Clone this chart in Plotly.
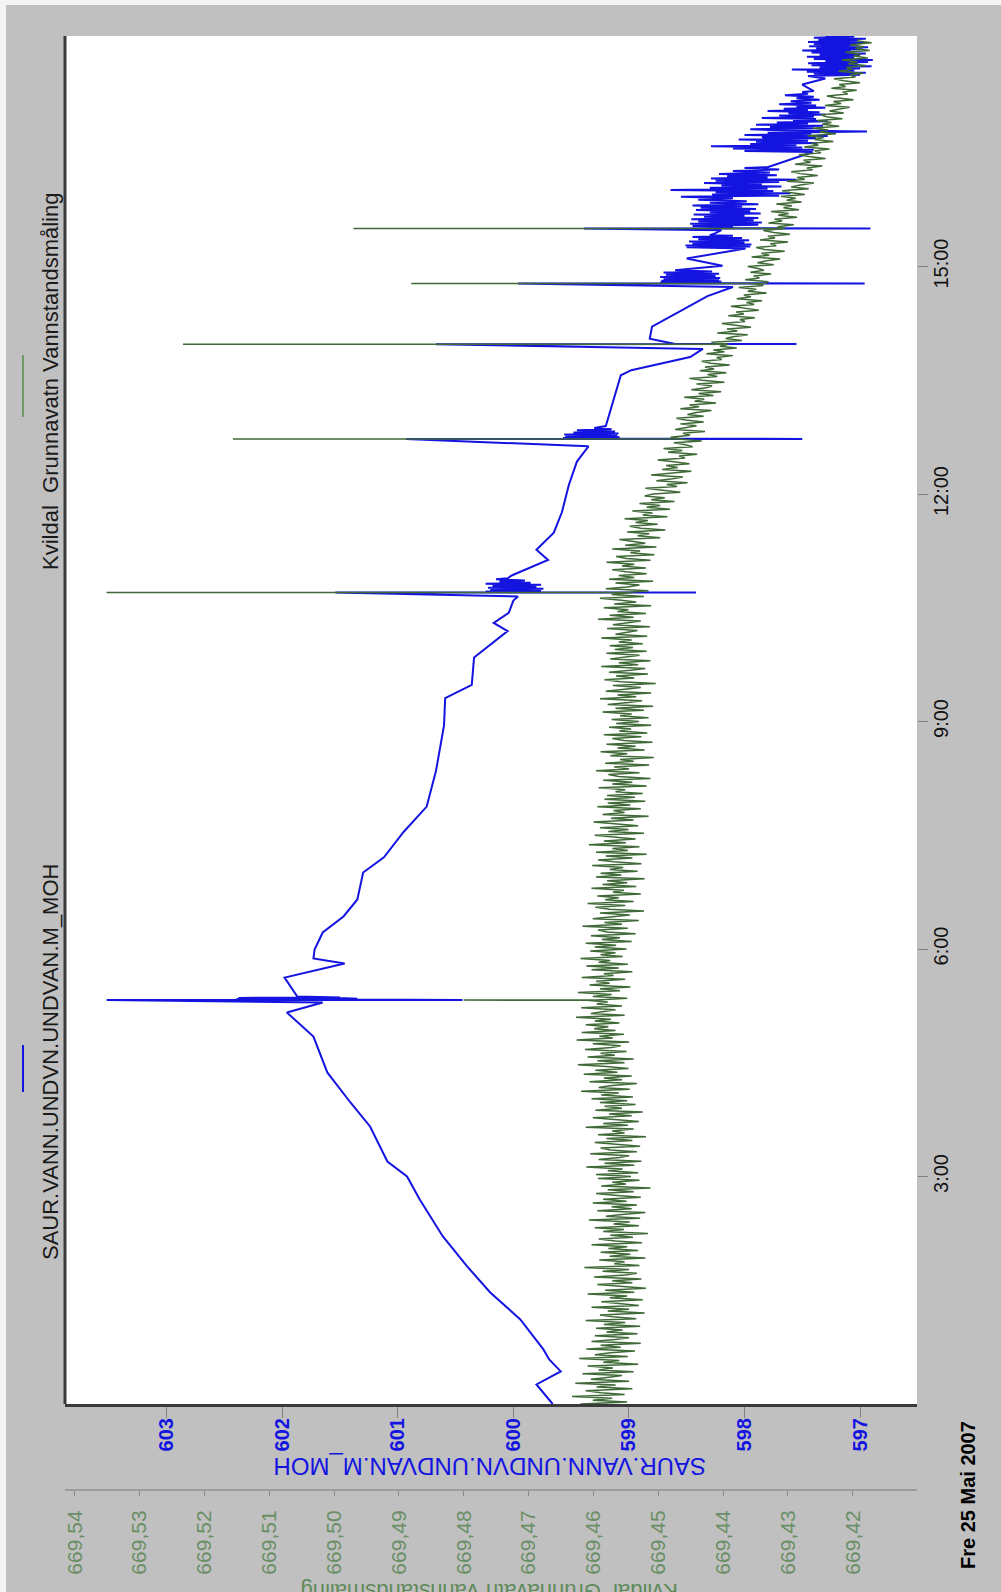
import numpy as np
import pandas as pd
import plotly.graph_objects as go

DAY = pd.Timestamp("2007-05-25")

# SAUR.VANN.UNDVN.UNDVAN.M_MOH : (hours after midnight, level in m)
BLUE_READINGS = [
    (0.000, 599.66), (0.258, 599.80), (0.430, 599.59), (0.588, 599.69), (0.720, 599.74),
    (1.115, 599.94), (1.471, 600.20), (1.814, 600.40), (2.210, 600.61), (2.697, 600.81),
    (3.000, 600.92), (3.198, 601.09), (3.660, 601.24), (3.976, 601.41), (4.372, 601.61),
    (4.846, 601.73), (5.163, 601.96), (5.294, 601.65),
    # disturbance around 05:20
    (5.326, 603.52), (5.327, 600.44), (5.331, 602.35), (5.335, 601.40), (5.339, 602.40),
    (5.343, 601.35), (5.347, 602.30), (5.351, 601.45), (5.355, 602.38), (5.359, 601.50),
    (5.374, 601.87), (5.624, 601.98), (5.809, 601.46), (5.875, 601.73), (5.994, 601.72),
    (6.218, 601.65), (6.429, 601.47), (6.653, 601.35), (7.009, 601.30), (7.209, 601.12),
    (7.543, 600.95), (7.878, 600.75), (8.346, 600.67), (8.948, 600.60), (9.310, 600.59),
    (9.484, 600.36), (9.845, 600.34), (10.006, 600.21), (10.193, 600.05), (10.300, 600.17),
    (10.434, 600.04), (10.595, 600.00), (10.648, 599.96),
    # disturbance around 10:42
    (10.701, 601.54), (10.702, 598.42), (10.705, 600.05), (10.715, 600.24), (10.728, 599.76),
    (10.740, 600.20), (10.752, 599.74), (10.764, 600.22), (10.776, 599.80), (10.790, 600.18),
    (10.803, 599.76), (10.817, 600.24), (10.830, 599.85), (10.845, 600.12), (10.860, 599.90),
    (10.875, 600.15), (10.889, 600.05),
    (10.929, 600.01), (11.130, 599.70), (11.264, 599.80), (11.491, 599.65), (11.759, 599.58),
    (12.120, 599.52), (12.428, 599.45), (12.629, 599.35),
    # disturbance around 12:44
    (12.726, 600.93), (12.727, 597.50), (12.730, 599.30), (12.738, 599.57), (12.750, 599.08),
    (12.762, 599.55), (12.774, 599.10), (12.786, 599.56), (12.798, 599.09), (12.812, 599.48),
    (12.826, 599.12), (12.840, 599.45), (12.855, 599.15), (12.870, 599.30),
    (12.897, 599.20), (13.566, 599.07), (13.633, 598.98), (13.807, 598.47), (13.914, 598.36),
    # disturbance around 13:59
    (13.976, 600.67), (13.977, 597.55), (13.980, 598.60),
    (14.048, 598.82), (14.208, 598.80), (14.610, 598.32), (14.730, 598.10),
    # disturbance around 14:47
    (14.776, 599.96), (14.777, 596.96), (14.780, 598.40), (14.790, 598.73), (14.802, 598.20),
    (14.814, 598.72), (14.826, 598.22), (14.838, 598.70), (14.850, 598.21), (14.862, 598.73),
    (14.875, 598.25), (14.890, 598.68), (14.905, 598.22), (14.920, 598.70), (14.935, 598.28),
    (14.950, 598.60),
    (15.011, 598.19), (15.105, 598.50), (15.239, 597.99),
    (15.253, 598.50), (15.265, 597.95), (15.277, 598.51), (15.290, 597.94), (15.303, 598.45),
    (15.316, 598.00), (15.330, 598.48), (15.345, 597.96), (15.360, 598.40), (15.375, 598.02),
    (15.390, 598.45), (15.405, 598.10), (15.413, 598.30), (15.440, 598.25), (15.480, 598.20),
    # disturbance around 15:30, then unsteady readings
    (15.501, 599.39), (15.502, 596.91), (15.505, 598.30),
    (15.520, 598.10), (15.535, 598.45), (15.550, 597.88), (15.565, 598.47), (15.580, 597.85),
    (15.595, 598.40), (15.610, 597.92), (15.625, 598.46), (15.640, 597.88), (15.655, 598.35),
    (15.670, 598.00), (15.685, 598.44), (15.700, 597.86), (15.715, 598.30), (15.730, 597.95),
    (15.745, 598.42), (15.760, 597.90), (15.775, 598.38), (15.790, 598.02), (15.805, 598.45),
    (15.820, 597.88), (15.840, 598.30), (15.860, 597.98), (15.880, 598.40), (15.900, 598.10),
    (15.920, 598.55), (15.935, 597.70), (15.950, 598.28), (15.965, 597.60), (15.980, 598.25),
    (15.995, 597.75), (16.010, 598.64), (16.025, 597.80), (16.040, 598.30), (16.055, 597.68),
    (16.070, 598.20), (16.085, 597.85), (16.100, 598.35), (16.115, 597.70), (16.130, 598.25),
    (16.145, 597.55), (16.160, 598.29), (16.175, 597.80), (16.190, 598.15), (16.205, 597.72),
    (16.220, 598.22), (16.240, 597.78), (16.260, 598.10), (16.280, 597.70), (16.300, 598.00),
    (16.310, 597.80), (16.510, 597.41),
    (16.525, 598.00), (16.540, 597.40), (16.555, 598.10), (16.570, 597.50), (16.585, 598.29),
    (16.600, 597.55), (16.615, 597.95), (16.630, 597.37), (16.645, 597.90), (16.660, 597.45),
    (16.675, 598.05), (16.690, 597.38), (16.705, 597.85), (16.720, 597.28), (16.735, 598.00),
    (16.750, 597.42), (16.765, 597.80), (16.780, 596.94), (16.795, 597.65), (16.810, 597.95),
    (16.825, 597.40), (16.840, 597.78), (16.855, 597.32), (16.870, 597.90), (16.885, 597.45),
    (16.900, 597.72), (16.915, 597.28), (16.930, 597.58), (16.945, 597.38), (16.960, 597.85),
    (16.975, 597.40), (16.990, 597.70), (17.005, 597.30), (17.020, 597.62), (17.035, 597.35),
    (17.050, 597.80), (17.065, 597.45), (17.080, 597.66), (17.095, 597.30), (17.110, 597.55),
    (17.125, 597.38), (17.140, 597.70), (17.160, 597.42), (17.180, 597.60), (17.200, 597.35),
    (17.220, 597.55), (17.240, 597.40), (17.260, 597.65), (17.280, 597.45), (17.300, 597.50),
    (17.314, 597.40), (17.400, 597.50), (17.480, 597.30),
    (17.514, 597.45), (17.528, 597.00), (17.542, 597.40), (17.556, 596.95), (17.570, 597.46),
    (17.584, 597.05), (17.598, 597.59), (17.612, 597.00), (17.626, 597.35), (17.640, 596.90),
    (17.654, 597.42), (17.668, 597.02), (17.682, 597.45), (17.696, 596.93), (17.710, 597.30),
    (17.724, 596.89), (17.738, 597.40), (17.752, 597.05), (17.766, 597.46), (17.780, 597.00),
    (17.794, 597.35), (17.808, 596.95), (17.822, 597.42), (17.836, 597.08), (17.850, 597.50),
    (17.864, 596.98), (17.878, 597.38), (17.892, 596.93), (17.906, 597.44), (17.920, 597.05),
    (17.934, 597.40), (17.948, 596.96), (17.962, 597.45), (17.976, 597.02), (17.990, 597.36),
    (18.004, 596.95), (18.018, 597.40), (18.032, 597.05), (18.046, 597.30),
]

# Kvildal Grunnavatn Vannstandsmåling : level above the 669.400 m datum, in 0.1 mm,
# one reading every 0.025 h (90 s) starting at 00:00
GREEN_DATUM_M = 669.4
GREEN_STEP_HOURS = 0.025
GREEN_ABOVE_DATUM = [
    # 00
    620, 548, 601, 571, 633, 552, 588, 612, 540, 595, 566, 628, 545, 604, 579, 556, 617, 538, 592, 570,
    609, 531, 585, 560, 622, 547, 598, 574, 536, 611, 558, 589, 527, 603, 566, 545, 598, 532, 580, 555,
    # 01
    596, 528, 584, 551, 612, 534, 570, 590, 521, 578, 545, 603, 530, 566, 588, 524, 575, 548, 609, 537,
    582, 519, 563, 594, 540, 571, 526, 599, 551, 533, 586, 545, 614, 529, 568, 552, 591, 520, 575, 543,
    # 02
    589, 531, 577, 548, 603, 525, 566, 592, 539, 574, 516, 585, 553, 598, 530, 569, 544, 607, 528, 581,
    556, 520, 594, 541, 572, 533, 601, 549, 585, 527, 563, 596, 538, 578, 512, 588, 550, 571, 529, 593,
    # 03
    542, 596, 531, 578, 555, 611, 537, 583, 526, 592, 560, 545, 605, 533, 574, 589, 528, 566, 598, 540,
    580, 519, 593, 552, 571, 538, 612, 547, 585, 530, 569, 601, 541, 576, 524, 597, 556, 583, 535, 590,
    # 04
    548, 603, 539, 588, 561, 619, 544, 592, 571, 533, 606, 556, 584, 541, 615, 563, 597, 546, 580, 624,
    552, 594, 538, 609, 567, 589, 549, 613, 572, 558, 601, 545, 626, 570, 591, 553, 618, 566, 599, 577,
    # 05
    612, 560, 598, 573, 627, 552, 604, 581, 566, 619, 556, 595, 578, 610, 548, 601, 572, 624, 559, 590,
    543, 606, 575, 596, 551, 618, 569, 584, 540, 603, 561, 611, 547, 592, 574, 620, 555, 589, 566, 605,
    # 06
    549, 598, 565, 612, 541, 587, 559, 604, 535, 579, 593, 547, 617, 556, 583, 530, 601, 568, 544, 590,
    522, 575, 597, 551, 609, 538, 582, 561, 594, 527, 570, 553, 603, 534, 586, 548, 579, 521, 596, 557,
    # 07
    589, 532, 575, 554, 602, 526, 568, 593, 540, 581, 518, 596, 547, 571, 529, 607, 550, 584, 535, 565,
    598, 522, 577, 546, 590, 531, 561, 600, 538, 573, 515, 586, 552, 569, 527, 594, 543, 578, 520, 583,
    # 08
    536, 579, 524, 566, 551, 592, 518, 571, 540, 585, 512, 561, 577, 529, 596, 545, 568, 514, 582, 538,
    559, 507, 574, 548, 589, 521, 563, 535, 580, 509, 553, 571, 526, 584, 517, 560, 542, 576, 511, 565,
    # 09
    530, 572, 515, 559, 541, 586, 522, 566, 508, 578, 546, 525, 590, 534, 563, 511, 581, 549, 527, 570,
    504, 558, 583, 537, 565, 516, 576, 543, 520, 588, 531, 561, 512, 574, 547, 529, 580, 518, 567, 539,
    # 10
    575, 524, 561, 541, 588, 517, 566, 549, 532, 579, 513, 570, 552, 527, 593, 538, 575, 519, 563, 546,
    584, 511, 568, 534, 557, 590, 522, 572, 541, 515, 581, 548, 529, 566, 508, 576, 537, 561, 518, 550,
    # 11
    571, 519, 556, 537, 580, 512, 549, 565, 506, 543, 528, 571, 503, 551, 520, 538, 560, 497, 532, 514,
    548, 489, 527, 544, 501, 535, 516, 552, 486, 524, 509, 540, 482, 518, 497, 529, 475, 511, 490, 521,
    # 12
    508, 466, 499, 520, 471, 487, 455, 503, 478, 462, 511, 483, 449, 494, 470, 488, 452, 476, 501, 459,
    468, 440, 485, 463, 492, 447, 458, 476, 433, 469, 481, 451, 462, 428, 474, 455, 441, 466, 430, 458,
    # 13
    472, 430, 455, 441, 418, 466, 437, 452, 411, 444, 429, 460, 415, 438, 403, 449, 426, 417, 441, 398,
    432, 452, 409, 424, 395, 436, 414, 428, 390, 419, 433, 402, 410, 385, 426, 398, 415, 379, 405, 392,
    # 14
    418, 371, 396, 385, 362, 409, 378, 394, 357, 383, 402, 366, 374, 351, 392, 368, 380, 345, 371, 388,
    352, 364, 340, 379, 357, 368, 333, 362, 349, 376, 338, 355, 330, 366, 344, 353, 326, 358, 337, 346,
    # 15
    362, 322, 347, 333, 312, 356, 329, 341, 305, 336, 349, 318, 327, 300, 343, 320, 331, 297, 322, 338,
    304, 316, 291, 330, 309, 321, 286, 315, 299, 326, 283, 307, 294, 318, 279, 302, 288, 311, 274, 297,
    # 16
    309, 268, 295, 281, 260, 302, 274, 286, 254, 281, 295, 262, 271, 247, 289, 265, 276, 242, 268, 283,
    249, 259, 236, 275, 253, 264, 230, 259, 245, 270, 226, 251, 238, 262, 221, 247, 233, 255, 216, 241,
    # 17
    249, 214, 236, 222, 205, 243, 218, 230, 199, 226, 240, 208, 216, 194, 233, 211, 221, 189, 214, 229,
    196, 205, 184, 222, 201, 210, 180, 207, 193, 217, 177, 199, 188, 211, 174, 196, 183, 204, 171, 192,
    # 18
    190,
]
# short disturbances in the Kvildal gauge, out and back (hours, m)
GREEN_SPIKE_HOURS = [5.326, 5.327, 10.701, 10.702, 12.726, 12.727,
                     13.976, 13.977, 14.776, 14.777, 15.501, 15.502]
GREEN_SPIKE_LEVEL = [669.4800, 669.4595, 669.5351, 669.4550, 669.5156, 669.4465,
                     669.5233, 669.4395, 669.4881, 669.4335, 669.4970, 669.4305]

BLUE_TICKS = [603, 602, 601, 600, 599, 598, 597]
GREEN_TICKS = [669.54, 669.53, 669.52, 669.51, 669.50, 669.49, 669.48,
               669.47, 669.46, 669.45, 669.44, 669.43, 669.42]
GREEN_TICK_TEXT = [f"{v:.2f}".replace(".", ",") for v in GREEN_TICKS]
TIME_TICK_HOURS = [3, 6, 9, 12, 15]
TIME_TICK_TEXT = ["3:00", "6:00", "9:00", "12:00", "15:00"]
TIME_MINOR_HOURS = [1, 2, 4, 5, 7, 8, 10, 11, 13, 14, 16, 17]

BLUE = "#1414e0"
GREEN = "#3f6a37"
FONT = "Liberation Sans, Arial, Helvetica, sans-serif"


def at(hours):
    return DAY + pd.to_timedelta(np.asarray(hours, dtype=float), unit="h")


blue_h, blue_v = zip(*BLUE_READINGS)

g_hours = np.round(np.arange(len(GREEN_ABOVE_DATUM)) * GREEN_STEP_HOURS, 3)
g_level = GREEN_DATUM_M + np.asarray(GREEN_ABOVE_DATUM) / 10000.0
green = pd.DataFrame({
    "h": np.concatenate([g_hours, GREEN_SPIKE_HOURS]),
    "v": np.concatenate([g_level, GREEN_SPIKE_LEVEL]),
}).sort_values("h", kind="stable")

fig = go.Figure()
fig.add_trace(go.Scatter(
    x=green["v"], y=at(green["h"]), xaxis="x2", yaxis="y",
    mode="lines", line=dict(color=GREEN, width=1.5), showlegend=False,
))
fig.add_trace(go.Scatter(
    x=blue_v, y=at(blue_h), xaxis="x", yaxis="y",
    mode="lines", line=dict(color=BLUE, width=2), showlegend=False,
))

# plotting area: left 65, right 917, top 36, green axis at 1490, main plot bottom 1404
W, H = 1001, 1592
L, R, T, B = 65, 84, 36, 102
PW, PH = W - L - R, H - T - B
ybot = (H - B - 1404) / PH


def px(x):
    return (x - L) / PW


def py(y):
    return (H - B - y) / PH


t_range = [at([0.0])[0], at([18.04])[0]]
blue_range = [603.88, 596.507]
green_range = [669.5415, 669.4101]

fig.update_layout(
    width=W, height=H,
    margin=dict(l=L, r=R, t=T, b=B, pad=0),
    paper_bgcolor="#c0c0c0", plot_bgcolor="#ffffff",
    font=dict(family=FONT, size=20, color="#000000"),
    showlegend=False,
    yaxis=dict(
        type="date", domain=[ybot, 1], range=t_range, side="right",
        showgrid=False, zeroline=False, showline=False,
        tickmode="array", tickvals=at(TIME_TICK_HOURS), ticktext=TIME_TICK_TEXT,
        tickangle=-90, ticks="outside", ticklen=10, tickcolor="#808080",
        tickfont=dict(size=20, color="#111111"), ticklabelstandoff=-4,
    ),
    yaxis2=dict(
        type="date", overlaying="y", range=t_range, side="right",
        showgrid=False, zeroline=False, showline=False, showticklabels=False,
        tickmode="array", tickvals=at(TIME_TICK_HOURS),
        ticks="inside", ticklen=15, tickcolor="#808080",
        minor=dict(tickmode="array", tickvals=at(TIME_MINOR_HOURS),
                   ticks="inside", ticklen=11, tickcolor="#808080"),
    ),
    xaxis=dict(
        domain=[0, 1], range=blue_range, anchor="y", side="bottom",
        showgrid=False, zeroline=False,
        showline=True, linecolor="#3a3a3a", linewidth=3,
        tickmode="array", tickvals=BLUE_TICKS, tickangle=-90,
        ticks="outside", ticklen=11, tickcolor="#808080",
        tickfont=dict(size=20, color=BLUE, weight="bold"), ticklabelstandoff=-8,
    ),
    xaxis3=dict(
        overlaying="x", range=blue_range, anchor="y", side="bottom",
        showgrid=False, zeroline=False, showline=False, showticklabels=False,
        tickmode="linear", tick0=597, dtick=0.5,
        ticks="inside", ticklen=9, tickcolor="#b4b4b4",
    ),
    xaxis2=dict(
        overlaying="x", range=green_range, anchor="free", position=0, side="bottom",
        showgrid=False, zeroline=False,
        showline=True, linecolor="#9c9c9c", linewidth=2,
        tickmode="array", tickvals=GREEN_TICKS, ticktext=GREEN_TICK_TEXT,
        tickangle=-90, ticks="outside", ticklen=5, tickcolor="#8c8c8c",
        tickfont=dict(size=21, color="#6a8f66"), ticklabelstandoff=6,
    ),
    xaxis4=dict(
        overlaying="x", range=green_range, anchor="free", position=0, side="bottom",
        showgrid=False, zeroline=False, showline=False, showticklabels=False,
        tickmode="array", tickvals=GREEN_TICKS,
        ticks="inside", ticklen=10, tickcolor="#8c8c8c",
        minor=dict(tickmode="linear", tick0=669.42, dtick=0.002,
                   ticks="inside", ticklen=9, tickcolor="#e8e8e8"),
    ),
)

shapes = [
    # dark frame line on the left of the plot
    dict(type="line", xref="paper", yref="paper", x0=0, x1=0, y0=ybot, y1=1,
         line=dict(color="#3a3a3a", width=3)),
    # light strips at the page edge
    dict(type="rect", xref="paper", yref="paper", x0=px(-5), x1=px(6),
         y0=py(H + 5), y1=py(-5), fillcolor="#f4f4f4", line=dict(width=0)),
    dict(type="rect", xref="paper", yref="paper", x0=px(-5), x1=px(W + 5),
         y0=py(5), y1=py(-5), fillcolor="#f4f4f4", line=dict(width=0)),
    # legend line samples
    dict(type="line", xref="paper", yref="paper", x0=px(23), x1=px(23),
         y0=py(1092), y1=py(1045), line=dict(color=BLUE, width=2)),
    dict(type="line", xref="paper", yref="paper", x0=px(23), x1=px(23),
         y0=py(417), y1=py(355), line=dict(color="#6f9a68", width=2)),
]
fig.update_layout(shapes=shapes)

annotations = [
    dict(text="SAUR.VANN.UNDVN.UNDVAN.M_MOH", x=px(50), y=py(1062), textangle=-90,
         font=dict(size=22, color="#1a1a1a")),
    dict(text="Kvildal  Grunnavatn Vannstandsmåling", x=px(50), y=py(382), textangle=-90,
         font=dict(size=22, color="#1a1a1a")),
    dict(text="SAUR.VANN.UNDVN.UNDVAN.M_MOH", x=px(490), y=py(1467), textangle=180,
         font=dict(size=24, color=BLUE)),
    dict(text="Kvildal  Grunnavatn Vannstandsmåling", x=px(490), y=py(1592), textangle=180,
         font=dict(size=22, color="#5f8a5a")),
    dict(text="Fre 25 Mai 2007", x=px(968), y=py(1495), textangle=-90,
         font=dict(size=20, color="#000000", weight="bold")),
]
for a in annotations:
    a.update(xref="paper", yref="paper", showarrow=False,
             xanchor="center", yanchor="middle")
fig.update_layout(annotations=annotations)

fig.write_html("out.html")
